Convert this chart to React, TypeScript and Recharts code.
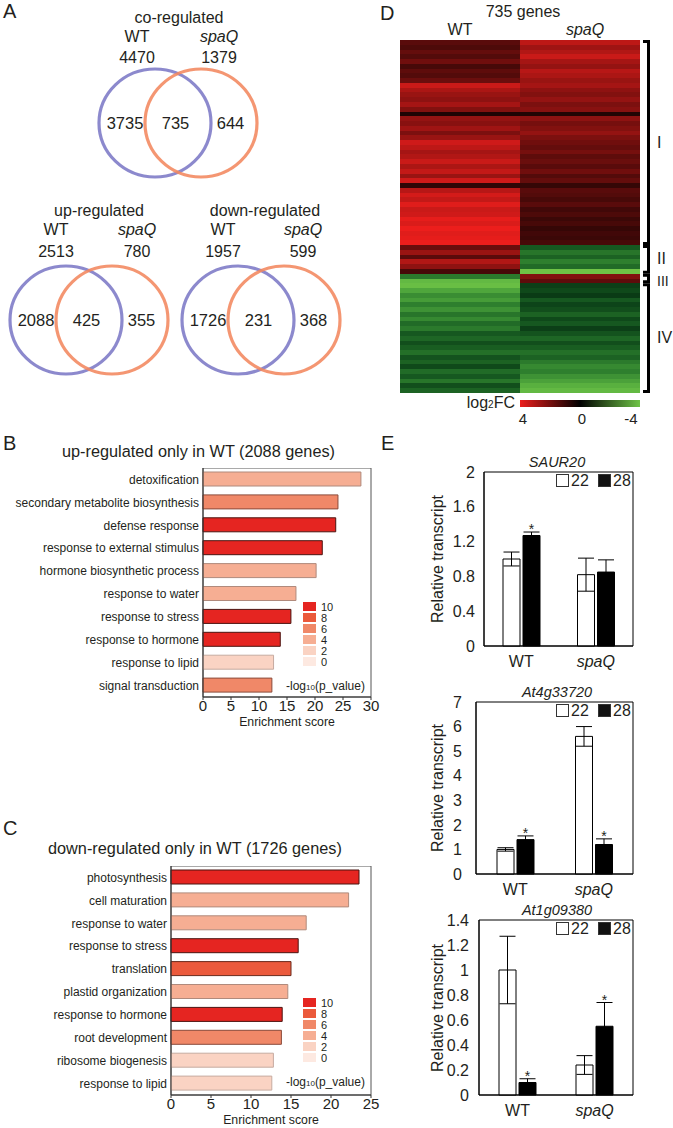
import React from 'react';
import {
  BarChart,
  Bar,
  XAxis,
  YAxis,
  Cell,
  ScatterChart,
  Scatter,
  ErrorBar,
  LabelList,
  ReferenceArea,
} from 'recharts';

const FONT = '"Liberation Sans", Arial, Helvetica, sans-serif';
const INK = '#231f20';

// A: Venn counts (co / up / down)
const vennTitles = ['co-regulated', 'up-regulated', 'down-regulated'];
const wtTotals = [4470, 2513, 1957];
const spaqTotals = [1379, 780, 599];
const wtOnly = [3735, 2088, 1726];
const bothCount = [735, 425, 231];
const spaqOnly = [644, 355, 368];

// B: up-regulated only in WT
const upTerms = [
  'detoxification',
  'secondary metabolite biosynthesis',
  'defense response',
  'response to external stimulus',
  'hormone biosynthetic process',
  'response to water',
  'response to stress',
  'response to hormone',
  'response to lipid',
  'signal transduction',
];
const upScores = [28.2, 24.1, 23.7, 21.3, 20.2, 16.6, 15.7, 13.8, 12.6, 12.3];
const upLogP = [4, 6, 10, 10, 4, 4, 10, 10, 2, 6];

// C: down-regulated only in WT
const downTerms = [
  'photosynthesis',
  'cell maturation',
  'response to water',
  'response to stress',
  'translation',
  'plastid organization',
  'response to hormone',
  'root development',
  'ribosome biogenesis',
  'response to lipid',
];
const downScores = [23.5, 22.2, 16.9, 15.9, 15.0, 14.6, 13.9, 13.8, 12.8, 12.6];
const downLogP = [10, 4, 4, 10, 8, 4, 10, 6, 2, 2];

const pLevels = [10, 8, 6, 4, 2, 0];

// D: heatmap, one row ~ 10 genes, clusters I-IV
const clusterNames = ['I', 'II', 'III', 'IV'];
const clusterRows = [43, 6, 2, 23];
const wtFC = [
  1.5, 1.3, 1.7, 1.4, 1.9, 1.2, 1.6, 1.4, 1.8,
  3.4, 2.9, 2.6, 2.4, 2.8, 2.2, 0.5, 2.5, 2.3, 2.7, 2.1, 2.6,
  3.5, 3.2, 2.8, 3.0, 3.4, 2.9, 3.3, 2.6, 3.5, 0.8, 3.1,
  3.6, 3.3, 3.8, 3.4, 3.5, 3.9, 3.7, 4.0, 3.8, 3.9, 4.0,
  1.8, 2.6, 1.5, 3.0, 2.4, 1.2,
  -2.5, -3.8,
  -3.9, -3.4, -2.9, -3.2, -2.6, -3.0, -2.4, -2.8, -2.2, -2.5, -1.8, -2.1,
  -1.6, -1.9, -2.3, -1.7, -2.0, -1.5, -2.2, -1.8, -2.4, -1.6, -2.0,
];
const spaqFC = [
  3.2, 2.7, 3.0, 3.4, 2.8, 2.5, 3.1, 2.9, 2.6,
  2.8, 2.4, 2.2, 2.5, 2.1, 2.3, 0.6, 2.4, 2.0, 2.2, 2.5, 2.1,
  1.9, 1.7, 2.0, 1.6, 1.8, 1.5, 1.9, 1.4, 1.7, 0.9, 1.5,
  1.4, 1.2, 1.5, 1.1, 1.3, 1.0, 1.2, 0.9, 1.1, 1.0, 1.2,
  -1.8, -2.4, -2.0, -2.6, -2.2, -4.0,
  2.2, 1.6,
  -1.3, -1.5, -1.2, -1.8, -1.4, -1.6, -2.0, -1.5, -1.8, -1.3, -1.7, -2.1,
  -1.6, -1.9, -2.3, -2.0, -2.5, -2.8, -2.6, -3.0, -3.3, -3.6, -3.8,
];

// E: qPCR
const groups = ['WT', 'spaQ'];
const saur22 = [1.0, 0.82];
const saur22Err = [0.08, 0.19];
const saur28 = [1.27, 0.85];
const saur28Err = [0.04, 0.14];
const saurSig = [1, 0];

const at4g22 = [1.0, 5.6];
const at4g22Err = [0.07, 0.4];
const at4g28 = [1.4, 1.2];
const at4g28Err = [0.15, 0.23];
const at4gSig = [1, 1];

const at1g22 = [1.0, 0.24];
const at1g22Err = [0.27, 0.075];
const at1g28 = [0.1, 0.55];
const at1g28Err = [0.03, 0.19];
const at1gSig = [1, 1];

const pFill: Record<number, string> = {
  10: '#e52521',
  8: '#eb5a3c',
  6: '#f08868',
  4: '#f6ae93',
  2: '#fad3c3',
  0: '#fde9e1',
};
const pStroke: Record<number, string> = {
  10: '#4a1410',
  8: '#6a2a1c',
  6: '#8a4a3a',
  4: '#b08a7c',
  2: '#c6aba0',
  0: '#d8c8c2',
};

const fcColor = (v: number) => {
  if (v >= 0) {
    const t = Math.min(v / 4, 1);
    return `rgb(${Math.round(236 * t)},${Math.round(30 * t)},${Math.round(28 * t)})`;
  }
  const t = Math.min(-v / 4, 1);
  return `rgb(${Math.round(110 * t * t)},${Math.round(195 * t)},${Math.round(70 * t)})`;
};

const Txt = ({ x, y, children, size = 16, anchor = 'middle', italic = false, style = {} }: any) => (
  <div
    style={{
      position: 'absolute',
      left: x,
      top: y,
      transform: `translate(${anchor === 'middle' ? '-50%' : anchor === 'end' ? '-100%' : '0'}, -50%)`,
      fontFamily: FONT,
      fontSize: size,
      fontStyle: italic ? 'italic' : 'normal',
      color: INK,
      whiteSpace: 'nowrap',
      lineHeight: 1,
      ...style,
    }}
  >
    {children}
  </div>
);

// ---------- A ----------
const vennLayout = [
  { cx: 177.5, cy: 123, tx: 179, ty: 18, wx: 137, sx: 219, ny: 37, cy2: 58 },
  { cx: 89, cy: 320, tx: 99, ty: 211, wx: 56, sx: 137, ny: 230, cy2: 252 },
  { cx: 261, cy: 320, tx: 265, ty: 211, wx: 223, sx: 303, ny: 230, cy2: 252 },
];
const regionX = [-1.06, -0.05, 1.05];
const setColors: Record<string, string> = { WT: '#7c79c6', spaQ: '#f2875f' };

const VennCircle = (props: any) => (
  <ellipse
    cx={props.cx}
    cy={props.cy}
    rx={56}
    ry={54}
    fill="none"
    stroke={setColors[props.payload.set]}
    strokeWidth={3.2}
    strokeOpacity={0.88}
  />
);

const VennNumber = (props: any) => (
  <text
    x={props.cx}
    y={props.cy}
    dy="0.36em"
    textAnchor="middle"
    fontSize={16.5}
    fontFamily={FONT}
    fill={INK}
  >
    {props.payload.n}
  </text>
);

const Venn = ({ i }: { i: number }) => {
  const L = vennLayout[i];
  const circles = [
    { x: -0.46, y: 0, set: 'WT' },
    { x: 0.46, y: 0, set: 'spaQ' },
  ];
  const counts = [wtOnly[i], bothCount[i], spaqOnly[i]].map((n, k) => ({ x: regionX[k], y: 0, n }));
  return (
    <>
      <Txt x={L.tx} y={L.ty}>{vennTitles[i]}</Txt>
      <Txt x={L.wx} y={L.ny}>WT</Txt>
      <Txt x={L.sx} y={L.ny} italic>spaQ</Txt>
      <Txt x={L.wx} y={L.cy2}>{wtTotals[i]}</Txt>
      <Txt x={L.sx} y={L.cy2}>{spaqTotals[i]}</Txt>
      <div style={{ position: 'absolute', left: L.cx - 100, top: L.cy - 60 }}>
        <ScatterChart width={200} height={120} margin={{ top: 0, right: 0, bottom: 0, left: 0 }}>
          <XAxis type="number" dataKey="x" domain={[-2, 2]} hide />
          <YAxis type="number" dataKey="y" domain={[-1, 1]} hide />
          <Scatter data={circles} shape={<VennCircle />} isAnimationActive={false} />
          <Scatter data={counts} shape={<VennNumber />} isAnimationActive={false} />
        </ScatterChart>
      </div>
    </>
  );
};

// ---------- B / C ----------
const TermTick = (props: any) => {
  const { x, y, payload } = props;
  return (
    <text x={x} y={y} dy="0.36em" textAnchor="end" fontSize={12} fontFamily={FONT} fill={INK}>
      {payload.value}
    </text>
  );
};

const Enrichment = ({ terms, scores, levels, max, ticks, left, top, axisW }: any) => {
  const data = terms.map((t: string, k: number) => ({ term: t, score: scores[k], lp: levels[k] }));
  return (
    <div style={{ position: 'absolute', left, top }}>
      <BarChart
        layout="vertical"
        width={380}
        height={263}
        data={data}
        margin={{ top: 0, right: 9, left: 0, bottom: 5 }}
        barSize={14}
      >
        <XAxis
          type="number"
          domain={[0, max]}
          ticks={ticks}
          height={29}
          tickSize={3}
          tickMargin={0}
          interval={0}
          stroke="#333"
          tick={{ fontSize: 15, fill: INK, fontFamily: FONT }}
          label={{ value: 'Enrichment score', position: 'insideBottom', offset: 0, fontSize: 12.3, fill: INK, fontFamily: FONT }}
        />
        <YAxis
          type="category"
          dataKey="term"
          width={axisW}
          tickLine={false}
          tickSize={2}
          tickMargin={2}
          stroke="#333"
          interval={0}
          tick={<TermTick />}
        />
        <ReferenceArea x1={0} x2={max} fill="none" stroke="#555" strokeWidth={1} ifOverflow="visible" />
        <Bar dataKey="score" isAnimationActive={false}>
          {data.map((d: any, k: number) => (
            <Cell key={k} fill={pFill[d.lp]} stroke={pStroke[d.lp]} strokeWidth={1} />
          ))}
        </Bar>
      </BarChart>
    </div>
  );
};

const PLegend = ({ x, top, textY }: any) => (
  <>
    {pLevels.map((lv, k) => (
      <React.Fragment key={lv}>
        <div
          style={{
            position: 'absolute',
            left: x,
            top: top + k * 11,
            width: 15,
            height: 11,
            background: pFill[lv],
            boxSizing: 'border-box',
            border: '0.5px solid #fff',
          }}
        />
        <Txt x={x + 19} y={top + k * 11 + 5.5} size={11} anchor="start">{lv}</Txt>
      </React.Fragment>
    ))}
    <Txt x={286} y={textY} size={12} anchor="start">
      -log<span style={{ fontSize: 8 }}>10</span>(p_value)
    </Txt>
  </>
);

// ---------- D ----------
const Heatmap = () => {
  const rows = wtFC.map((v, k) => ({ row: k, wt: 1, spaq: 1, wtFC: v, spaqFC: spaqFC[k] }));
  const total = clusterRows.reduce((a, b) => a + b, 0);
  const H = 353;
  let acc = 0;
  const spans = clusterRows.map((n) => {
    const y0 = (acc / total) * H;
    acc += n;
    return [y0, (acc / total) * H];
  });
  return (
    <>
      <div style={{ position: 'absolute', left: 400, top: 40 }}>
        <BarChart
          layout="vertical"
          width={240}
          height={H}
          data={rows}
          margin={{ top: 0, right: 0, bottom: 0, left: 0 }}
          barCategoryGap={0}
          barGap={0}
        >
          <XAxis type="number" domain={[0, 2]} hide />
          <YAxis type="category" dataKey="row" hide />
          <Bar dataKey="wt" stackId="h" isAnimationActive={false} shapeRendering="crispEdges">
            {rows.map((r, k) => (
              <Cell key={k} fill={fcColor(r.wtFC)} />
            ))}
          </Bar>
          <Bar dataKey="spaq" stackId="h" isAnimationActive={false} shapeRendering="crispEdges">
            {rows.map((r, k) => (
              <Cell key={k} fill={fcColor(r.spaqFC)} />
            ))}
          </Bar>
        </BarChart>
      </div>
      <svg style={{ position: 'absolute', left: 640, top: 40 }} width={33} height={H + 2}>
        {spans.map(([a, b], k) => (
          <path
            key={k}
            d={`M3 ${a + 1.5} H8.5 V${b - 1.5} H3`}
            fill="none"
            stroke="#000"
            strokeWidth={3}
          />
        ))}
      </svg>
      {spans.map(([a, b], k) => (
        <Txt key={k} x={657} y={40 + (a + b) / 2 + (k === 2 ? 2 : 0)} anchor="start" size={k === 2 ? 14 : 16}>
          {clusterNames[k]}
        </Txt>
      ))}
      <div
        style={{
          position: 'absolute',
          left: 520,
          top: 400,
          width: 120,
          height: 7,
          background: `linear-gradient(to right, ${fcColor(4)}, #000 50%, ${fcColor(-4)})`,
        }}
      />
      <Txt x={515} y={403} anchor="end" size={16}>
        log<span style={{ fontSize: 10 }}>2</span>FC
      </Txt>
      <Txt x={523} y={418} size={15}>4</Txt>
      <Txt x={582} y={418} size={15}>0</Txt>
      <Txt x={631} y={418} size={15}>-4</Txt>
    </>
  );
};

// ---------- E ----------
const GroupTick = (props: any) => {
  const { x, y, payload } = props;
  return (
    <text
      x={x}
      y={y + 13}
      textAnchor="middle"
      fontSize={16}
      fontFamily={FONT}
      fontStyle={payload.value === 'spaQ' ? 'italic' : 'normal'}
      fill={INK}
    >
      {payload.value}
    </text>
  );
};

const QPCR = ({ title, m22, e22, m28, e28, sig, domain, ticks, left, top, axisW, plotH, tickGap }: any) => {
  const data = groups.map((g, k) => ({ g, m22: m22[k], e22: e22[k], m28: m28[k], e28: e28[k], sig: sig[k] }));
  const width = 633 + 2 - left;
  const plotTop = top + 8;
  const star = (p: any) => {
    const d = data[p.index];
    if (!d || !d.sig) return null;
    const pxPerUnit = p.height / d.m28;
    const yTop = p.y - d.e28 * pxPerUnit;
    return (
      <text x={p.x + p.width / 2} y={yTop + 2} textAnchor="middle" fontSize={14} fontFamily={FONT} fill={INK}>
        *
      </text>
    );
  };
  return (
    <>
      <Txt x={557} y={plotTop - 10} size={14.5} italic>{title}</Txt>
      <Txt x={438} y={plotTop + plotH / 2} size={16} style={{ transform: 'translate(-50%, -50%) rotate(-90deg)' }}>
        Relative transcript
      </Txt>
      <div style={{ position: 'absolute', left, top }}>
        <BarChart
          width={width}
          height={8 + plotH + 26}
          data={data}
          margin={{ top: 8, right: 2, left: 0, bottom: 0 }}
          barSize={17}
          barGap={3}
        >
          <XAxis dataKey="g" height={26} tickLine={false} stroke="#000" tick={<GroupTick />} />
          <YAxis
            type="number"
            domain={domain}
            ticks={ticks}
            interval={0}
            width={axisW}
            tickLine={false}
            tickMargin={tickGap}
            stroke="#000"
            tick={{ fontSize: 16, fill: INK, fontFamily: FONT }}
          />
          <ReferenceArea y1={domain[0]} y2={domain[1]} fill="none" stroke="#000" strokeWidth={1} ifOverflow="visible" />
          <Bar dataKey="m22" fill="#fff" stroke="#000" strokeWidth={1} isAnimationActive={false}>
            <ErrorBar dataKey="e22" width={8} stroke="#000" strokeWidth={1} direction="y" />
          </Bar>
          <Bar dataKey="m28" fill="#000" stroke="#000" strokeWidth={1} isAnimationActive={false}>
            <ErrorBar dataKey="e28" width={8} stroke="#000" strokeWidth={1} direction="y" />
            <LabelList dataKey="sig" content={star} />
          </Bar>
        </BarChart>
      </div>
      <div style={{ position: 'absolute', left: 556, top: plotTop + 2, width: 11, height: 11, border: '1px solid #333', background: '#fff' }} />
      <Txt x={571} y={plotTop + 8.5} size={16} anchor="start">22</Txt>
      <div style={{ position: 'absolute', left: 598, top: plotTop + 2, width: 11, height: 11, border: '1px solid #333', background: '#111' }} />
      <Txt x={613} y={plotTop + 8.5} size={16} anchor="start">28</Txt>
    </>
  );
};

export default function App() {
  return (
    <div style={{ position: 'absolute', left: 0, top: 0, width: 673, height: 1128, background: '#fff', overflow: 'hidden' }}>
      <Txt x={3} y={11} size={20} anchor="start">A</Txt>
      <Venn i={0} />
      <Venn i={1} />
      <Venn i={2} />

      <Txt x={3} y={443} size={20} anchor="start">B</Txt>
      <Txt x={62} y={451} size={16.3} anchor="start">up-regulated only in WT (2088 genes)</Txt>
      <Enrichment
        terms={upTerms}
        scores={upScores}
        levels={upLogP}
        max={30}
        ticks={[0, 5, 10, 15, 20, 25, 30]}
        left={0}
        top={468}
        axisW={203}
      />
      <PLegend x={302} top={601} textY={686} />

      <Txt x={3} y={828} size={20} anchor="start">C</Txt>
      <Txt x={48} y={848} size={16.3} anchor="start">down-regulated only in WT (1726 genes)</Txt>
      <Enrichment
        terms={downTerms}
        scores={downScores}
        levels={downLogP}
        max={25}
        ticks={[0, 5, 10, 15, 20, 25]}
        left={0}
        top={866}
        axisW={171}
      />
      <PLegend x={302} top={997} textY={1082} />

      <Txt x={380} y={13} size={20} anchor="start">D</Txt>
      <Txt x={523} y={12} size={16}>735 genes</Txt>
      <Txt x={460} y={30} size={16}>WT</Txt>
      <Txt x={585} y={30} size={16} italic>spaQ</Txt>
      <Heatmap />

      <Txt x={381} y={443} size={20} anchor="start">E</Txt>
      <QPCR
        title="SAUR20"
        m22={saur22}
        e22={saur22Err}
        m28={saur28}
        e28={saur28Err}
        sig={saurSig}
        domain={[0, 2]}
        ticks={[0, 0.4, 0.8, 1.2, 1.6, 2]}
        left={430}
        top={464}
        axisW={54}
        plotH={174}
        tickGap={3}
      />
      <QPCR
        title="At4g33720"
        m22={at4g22}
        e22={at4g22Err}
        m28={at4g28}
        e28={at4g28Err}
        sig={at4gSig}
        domain={[0, 7]}
        ticks={[0, 1, 2, 3, 4, 5, 6, 7]}
        left={422}
        top={694}
        axisW={54}
        plotH={172}
        tickGap={8}
      />
      <QPCR
        title="At1g09380"
        m22={at1g22}
        e22={at1g22Err}
        m28={at1g28}
        e28={at1g28Err}
        sig={at1gSig}
        domain={[0, 1.4]}
        ticks={[0, 0.2, 0.4, 0.6, 0.8, 1, 1.2, 1.4]}
        left={425}
        top={912}
        axisW={54}
        plotH={175}
        tickGap={4}
      />
    </div>
  );
}
